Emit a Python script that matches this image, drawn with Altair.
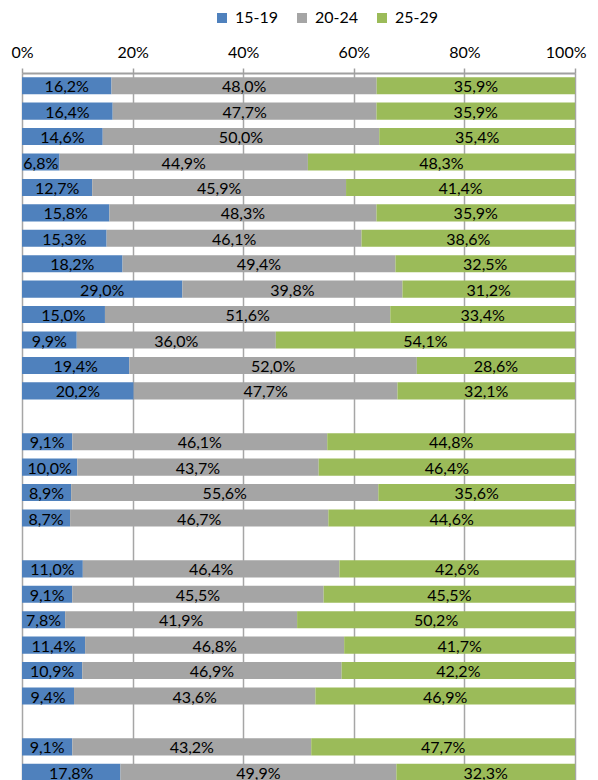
import altair as alt
import pandas as pd

# Row slots (top to bottom); gap rows stay empty
rows = [f"r{i:02d}" for i in range(1, 29)]
gap_rows = ["r14", "r19", "r26"]
data_rows = [r for r in rows if r not in gap_rows]

groups = ["15-19", "20-24", "25-29"]
colors = ["#4F81BD", "#A5A5A5", "#9BBB59"]

s15_19 = [16.2, 16.4, 14.6, 6.8, 12.7, 15.8, 15.3, 18.2, 29.0, 15.0, 9.9, 19.4, 20.2,
          9.1, 10.0, 8.9, 8.7,
          11.0, 9.1, 7.8, 11.4, 10.9, 9.4,
          9.1, 17.8]
s20_24 = [48.0, 47.7, 50.0, 44.9, 45.9, 48.3, 46.1, 49.4, 39.8, 51.6, 36.0, 52.0, 47.7,
          46.1, 43.7, 55.6, 46.7,
          46.4, 45.5, 41.9, 46.8, 46.9, 43.6,
          43.2, 49.9]
s25_29 = [35.9, 35.9, 35.4, 48.3, 41.4, 35.9, 38.6, 32.5, 31.2, 33.4, 54.1, 28.6, 32.1,
          44.8, 46.4, 35.6, 44.6,
          42.6, 45.5, 50.2, 41.7, 42.2, 46.9,
          47.7, 32.3]

records = []
for i, r in enumerate(data_rows):
    for k, (g, series) in enumerate(zip(groups, [s15_19, s20_24, s25_29])):
        v = series[i]
        records.append({
            "row": r, "group": g, "order": k, "value": v,
            "label": f"{v:.1f}%".replace(".", ","),
        })
df = pd.DataFrame(records)

FONT = "Lato"
FS = 16

base = alt.Chart(df).transform_stack(
    stack="value", groupby=["row"], as_=["x0", "x1"], offset="normalize",
    sort=[alt.SortField("order", order="ascending")],
).transform_calculate(mid="(datum.x0 + datum.x1) / 2")

yenc = alt.Y("row:N", scale=alt.Scale(domain=rows, paddingInner=0.33, paddingOuter=0.165), axis=None)

bars = base.mark_bar().encode(
    y=yenc,
    x=alt.X("x0:Q", scale=alt.Scale(domain=[0, 1], nice=False),
            axis=alt.Axis(orient="top", format=".0%", values=[0, 0.2, 0.4, 0.6, 0.8, 1.0],
                          title=None, labelFont=FONT, labelFontSize=FS, labelColor="#000000",
                          labelFlush=True, labelFlushOffset=11, labelOverlap=False,
                          labelPadding=8, tickSize=5, tickColor="#A0A0A0", tickWidth=1.5,
                          domainColor="#A0A0A0", domainWidth=2,
                          grid=True, gridColor="#A6A6A6", gridWidth=1.5)),
    x2="x1:Q",
    color=alt.Color("group:N", scale=alt.Scale(domain=groups, range=colors),
                    legend=alt.Legend(orient="none", direction="horizontal", title=None,
                                      legendX=192, legendY=-63, symbolType="square",
                                      symbolSize=100, symbolStrokeWidth=0, labelFont=FONT,
                                      labelFontSize=FS, labelColor="#000000", labelOffset=5,
                                      columnPadding=15, padding=0)),
    order=alt.Order("order:Q"),
)

texts = base.mark_text(font=FONT, fontSize=FS, color="#000000", baseline="middle", dy=1.5).encode(
    y=yenc,
    x=alt.X("mid:Q"),
    text="label:N",
)

chart = alt.layer(bars, texts).properties(
    width=553, height=712,
    autosize=alt.AutoSizeParams(type="none"),
    padding={"left": 14, "top": 65, "right": 15, "bottom": 0},
).configure_view(stroke=None)

chart.save("out.html", embed_options={"renderer": "svg", "actions": False})
